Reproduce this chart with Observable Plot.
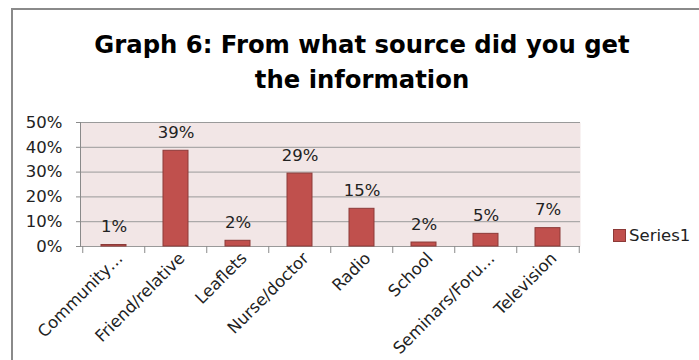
<!DOCTYPE html>
<html>
<head>
<meta charset="utf-8">
<script src="https://cdn.jsdelivr.net/npm/d3@7"></script>
<script src="https://cdn.jsdelivr.net/npm/@observablehq/plot@0.6"></script>
<style>
  html, body { margin: 0; padding: 0; background: #fff; }
  body { width: 699px; height: 360px; overflow: hidden; position: relative; font-family: "DejaVu Sans", sans-serif; }
  #frame { position: absolute; left: 11px; top: 8px; width: 720px; height: 420px; border-left: 2px solid #8a8a8a; border-top: 2px solid #8a8a8a; }
  #title { position: absolute; left: 0; top: 27px; width: 724px; text-align: center; font-weight: bold; font-size: 24.3px; line-height: 35px; color: #000; }
  #chart { position: absolute; left: 0; top: 100px; }
  #legend { position: absolute; left: 613px; top: 226px; display: flex; align-items: center; font-size: 16.5px; color: #222; }
  #legend .sw { width: 11px; height: 11px; background: #c0504d; border: 1px solid #8c3a38; margin-right: 3px; }
</style>
</head>
<body>
<div id="frame"></div>
<div id="title">Graph 6: From what source did you get<br>the information</div>
<div id="chart"></div>
<div id="legend"><div class="sw"></div><span>Series1</span></div>
<script>
const categories = ["Community…", "Friend/relative", "Leaflets", "Nurse/doctor", "Radio", "School", "Seminars/Foru…", "Television"];
const values = [0.006, 0.386, 0.023, 0.294, 0.152, 0.016, 0.051, 0.074];
const yTicks = [0, 0.1, 0.2, 0.3, 0.4, 0.5];
const seriesName = "Series1";

const data = categories.map((c, i) => ({cat: c, value: values[i]}));
const pct = d3.format(".0%");

const W = 699, H = 260, mL = 80, mR = 119, mT = 22, mB = 114;
const step = (W - mL - mR) / categories.length;
const FS = 16.5;

const chart = Plot.plot({
  width: W, height: H,
  marginLeft: mL, marginRight: mR, marginTop: mT, marginBottom: mB,
  style: {fontFamily: "'DejaVu Sans', sans-serif", background: "transparent", color: "#222"},
  x: {domain: categories, paddingInner: 0.6, paddingOuter: 0.3, axis: null},
  y: {domain: [0, 0.5], axis: null},
  marks: [
    Plot.frame({fill: "#f2e6e6", stroke: null}),
    Plot.ruleY(yTicks, {stroke: "#9a9a9a", strokeWidth: 1}),
    Plot.frame({anchor: "left", stroke: "#8a8a8a"}),
    Plot.axisY({ticks: yTicks, tickFormat: pct, tickSize: 4, tickPadding: 14, fontSize: FS, stroke: "#8a8a8a", color: "#222", label: null}),
    Plot.axisX({tickSize: 7, tickFormat: () => "", dx: -step / 2, stroke: "#8a8a8a", label: null}),
    Plot.axisX({ticks: [categories[categories.length - 1]], tickSize: 7, tickFormat: () => "", dx: step / 2, stroke: "#8a8a8a", label: null}),
    Plot.axisX({tickSize: 0, tickRotate: -45, tickPadding: 9, dx: 6, fontSize: FS, color: "#222", label: null}),
    Plot.barY(data, {x: "cat", y: "value", fill: "#c0504d", stroke: "#8c3a38", strokeWidth: 1}),
    Plot.text(data, {x: "cat", y: "value", text: d => pct(d.value), dy: -18, fontSize: FS, fill: "#222"})
  ]
});
document.getElementById("chart").appendChild(chart);
</script>
</body>
</html>
